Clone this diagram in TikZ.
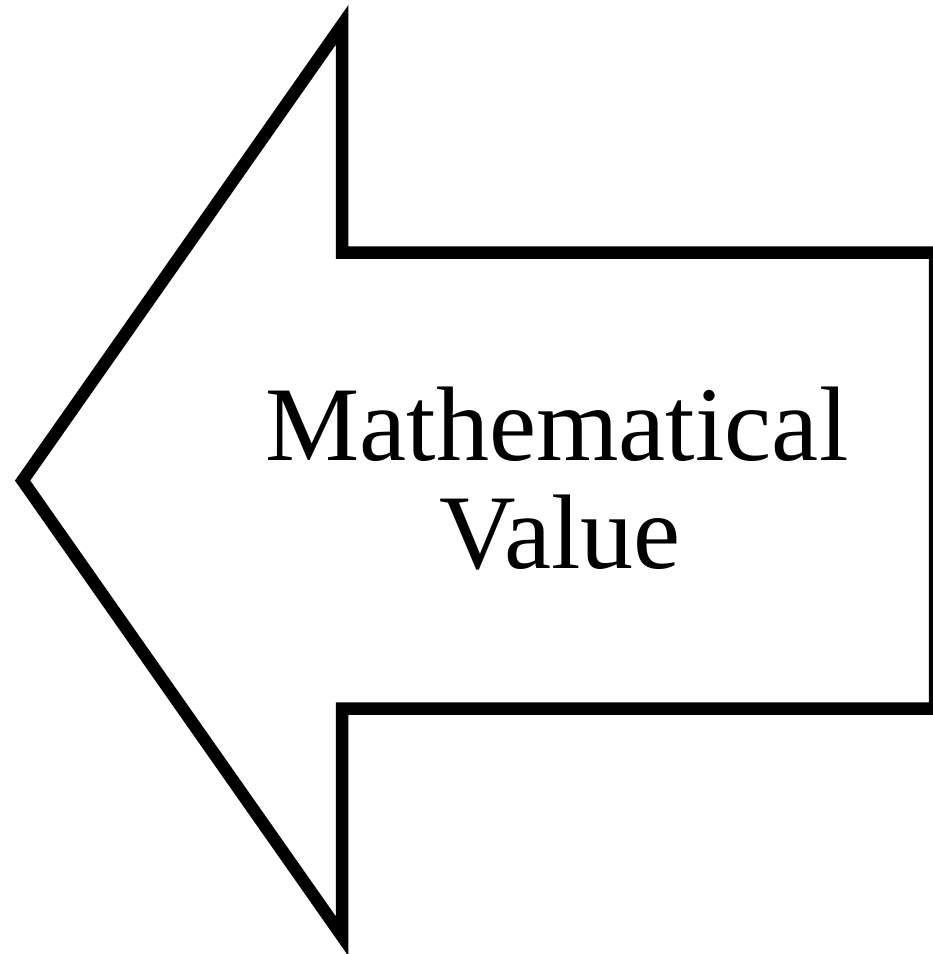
\documentclass[tikz,border=0pt]{standalone}
\usepackage{fontspec}
\setmainfont{Liberation Serif}
\begin{document}
\begin{tikzpicture}[x=1pt,y=-1pt,
  arrowline/.style={draw=black,line width=12.5pt,line join=miter,miter limit=10},
  label/.style={font=\fontsize{106}{108}\selectfont,inner sep=0pt,anchor=base}]
\useasboundingbox (0,0) rectangle (933,954);
\coordinate (tip) at (22.6,480.6);
\coordinate (ht) at (342,25);
\coordinate (st) at (342,252.5);
\coordinate (rt) at (935,252.5);
\coordinate (rb) at (935,708.7);
\coordinate (sb) at (342,708.7);
\coordinate (hb) at (342,936);
\draw[arrowline] (tip) -- (ht) -- (st) -- (rt) -- (rb) -- (sb) -- (hb) -- cycle;
\node[label] (t1) at (557,460) {Mathematical};
\node[label] (t2) at (560,568) {Value};
\end{tikzpicture}
\end{document}
